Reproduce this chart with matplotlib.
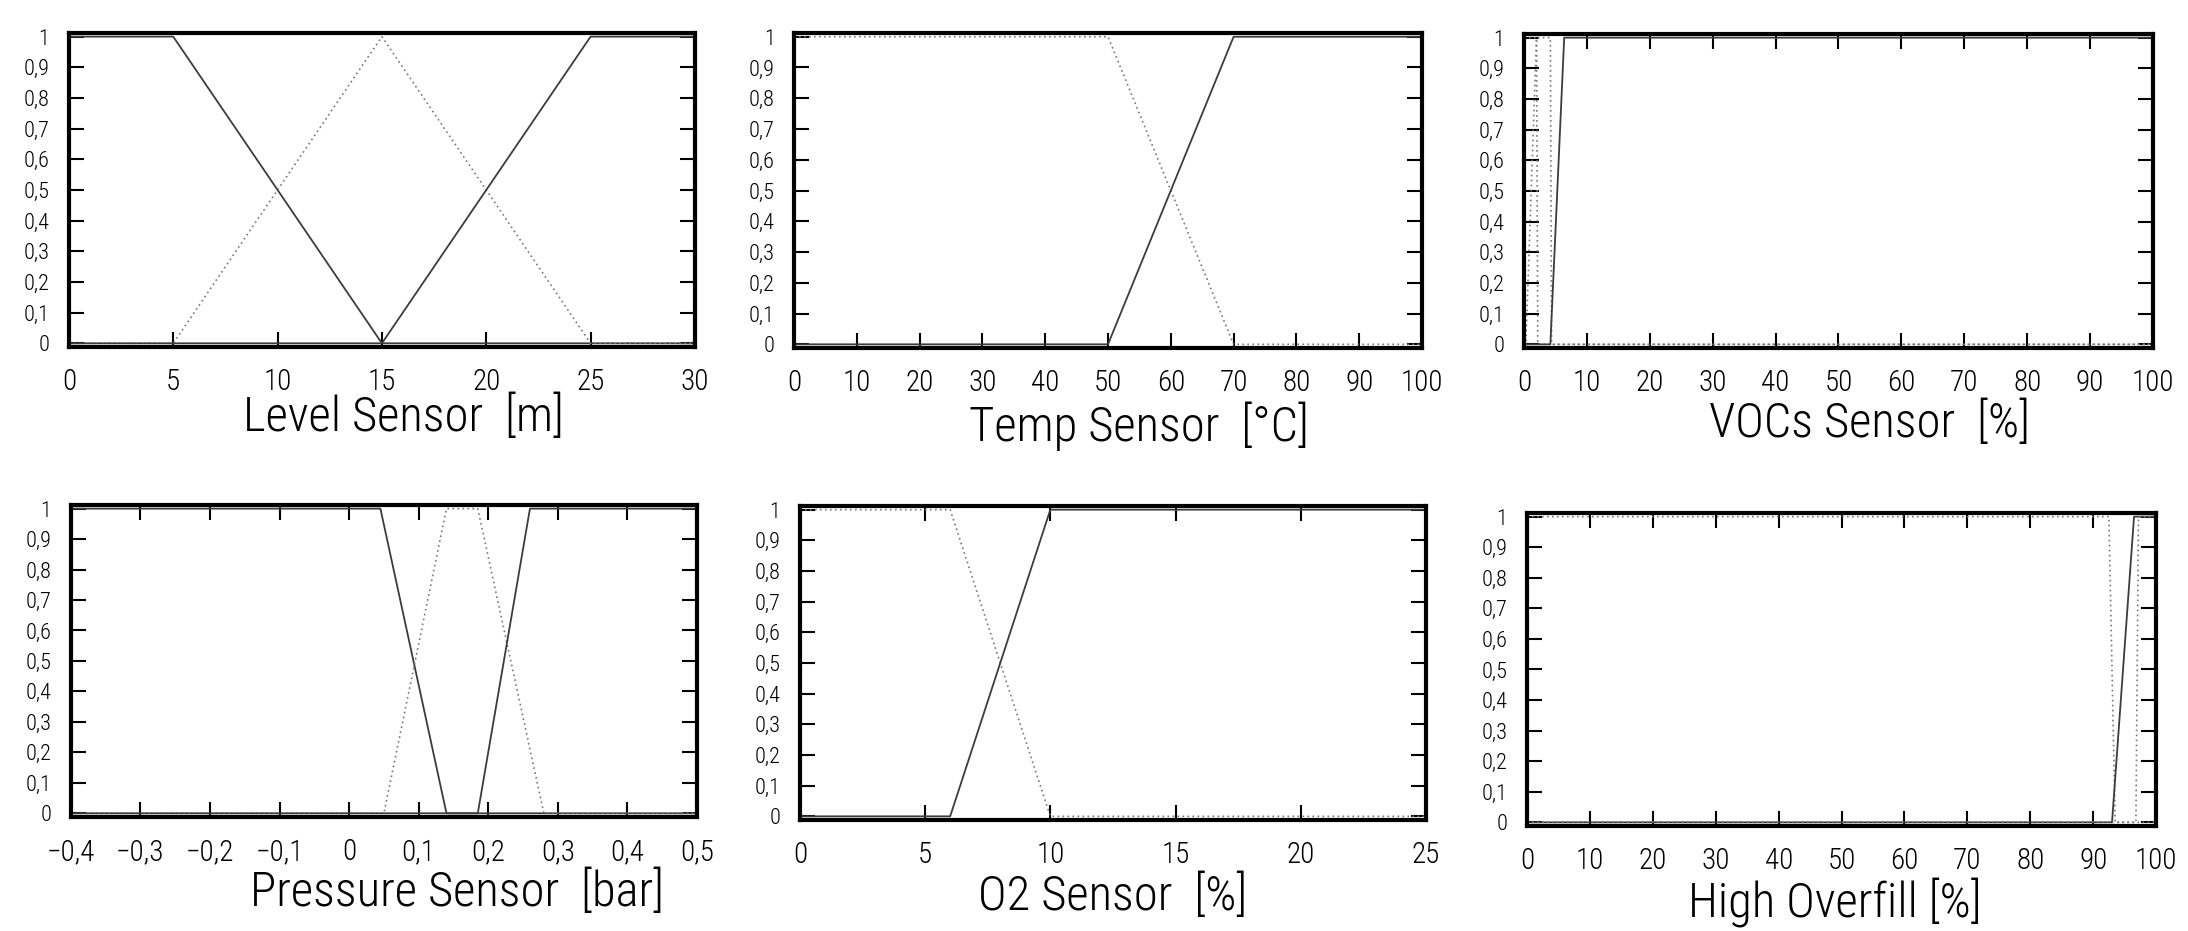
# Six fuzzy membership panels (sensor inputs), redrawn from the scanned figure
import matplotlib.pyplot as plt
from matplotlib.transforms import ScaledTranslation

# the scan uses a thin narrow grotesque; fall back to DejaVu for any missing glyph
plt.rcParams['font.family'] = ['Roboto Condensed', 'Archivo Narrow', 'DejaVu Sans']
plt.rcParams['font.weight'] = 'light'
plt.rcParams['axes.labelweight'] = 'light'

# ---- data: break points of each membership curve ----
# Level sensor [m]
level_low_x = [0, 5, 15, 30]
level_low_y = [1, 1, 0, 0]
level_mid_x = [0, 5, 15, 25, 30]
level_mid_y = [0, 0, 1, 0, 0]
level_high_x = [0, 15, 25, 30]
level_high_y = [0, 0, 1, 1]

# Temp sensor [C]
temp_low_x = [0, 50, 70, 100]
temp_low_y = [1, 1, 0, 0]
temp_high_x = [0, 50, 70, 100]
temp_high_y = [0, 0, 1, 1]

# VOCs sensor [%]
voc_low_x = [0, 2.0, 2.2, 100]
voc_low_y = [1, 1, 0, 0]
voc_mid_x = [0, 0.3, 2.0, 4.2, 4.4, 100]
voc_mid_y = [0, 0, 1, 1, 0, 0]
voc_high_x = [0, 4.2, 6.4, 100]
voc_high_y = [0, 0, 1, 1]

# Pressure sensor [bar]
pres_low_x = [-0.4, 0.045, 0.14, 0.5]
pres_low_y = [1, 1, 0, 0]
pres_mid_x = [-0.4, 0.05, 0.14, 0.185, 0.28, 0.5]
pres_mid_y = [0, 0, 1, 1, 0, 0]
pres_high_x = [-0.4, 0.185, 0.26, 0.5]
pres_high_y = [0, 0, 1, 1]

# O2 sensor [%]
o2_low_x = [0, 6, 10, 25]
o2_low_y = [1, 1, 0, 0]
o2_high_x = [0, 6, 10, 25]
o2_high_y = [0, 0, 1, 1]

# High overfill [%]
ovf_low_x = [0, 92.5, 93.5, 100]
ovf_low_y = [1, 1, 0, 0]
ovf_high_x = [0, 93, 96.5, 100]
ovf_high_y = [0, 0, 1, 1]
ovf_top_x = [0, 96.8, 97.2, 100]
ovf_top_y = [0, 0, 1, 1]

level_ticks = [0, 5, 10, 15, 20, 25, 30]
pct_ticks = [0, 10, 20, 30, 40, 50, 60, 70, 80, 90, 100]
pres_ticks = [-0.4, -0.3, -0.2, -0.1, 0, 0.1, 0.2, 0.3, 0.4, 0.5]
o2_ticks = [0, 5, 10, 15, 20, 25]
y_ticks = [0, 0.1, 0.2, 0.3, 0.4, 0.5, 0.6, 0.7, 0.8, 0.9, 1]

labels = ['Level Sensor  [m]', 'Temp Sensor  [\u00b0C]', 'VOCs Sensor  [%]',
          'Pressure Sensor  [bar]', 'O2 Sensor  [%]', 'High Overfill [%]']


def comma(v):
    # decimal comma and a real minus sign, like the original
    return ('%g' % v).replace('.', ',').replace('-', '\u2212')


panels = [
    dict(curves=[(level_low_x, level_low_y, 'solid'), (level_mid_x, level_mid_y, 'dot'),
                 (level_high_x, level_high_y, 'solid')],
         xlim=(0, 30), xticks=level_ticks, top=False,
         rect=[0.0315, 0.6273, 0.2861, 0.3373], lab=(0.535, -0.225)),
    dict(curves=[(temp_low_x, temp_low_y, 'dot'), (temp_high_x, temp_high_y, 'solid')],
         xlim=(0, 100), xticks=pct_ticks, top=False,
         rect=[0.3629, 0.6262, 0.2870, 0.3383], lab=(0.55, -0.25)),
    dict(curves=[(voc_low_x, voc_low_y, 'dot'), (voc_mid_x, voc_mid_y, 'dot'),
                 (voc_high_x, voc_high_y, 'solid')],
         xlim=(0, 100), xticks=pct_ticks, top=True,
         rect=[0.6965, 0.6262, 0.2875, 0.3373], lab=(0.55, -0.242)),
    dict(curves=[(pres_low_x, pres_low_y, 'solid'), (pres_mid_x, pres_mid_y, 'dot'),
                 (pres_high_x, pres_high_y, 'solid')],
         xlim=(-0.4, 0.5), xticks=pres_ticks, top=True,
         rect=[0.0324, 0.1225, 0.2861, 0.3351], lab=(0.617, -0.244)),
    dict(curves=[(o2_low_x, o2_low_y, 'dot'), (o2_high_x, o2_high_y, 'solid')],
         xlim=(0, 25), xticks=o2_ticks, top=True,
         rect=[0.3656, 0.1192, 0.2861, 0.3373], lab=(0.50, -0.245)),
    dict(curves=[(ovf_low_x, ovf_low_y, 'dot'), (ovf_high_x, ovf_high_y, 'solid'),
                 (ovf_top_x, ovf_top_y, 'dot')],
         xlim=(0, 100), xticks=pct_ticks, top=True,
         rect=[0.6979, 0.1128, 0.2875, 0.3362], lab=(0.49, -0.243)),
]

fig = plt.figure(figsize=(21.88, 9.31), dpi=100)

for p, label in zip(panels, labels):
    ax = fig.add_axes(p['rect'])
    for xs, ys, style in p['curves']:
        if style == 'solid':
            ax.plot(xs, ys, color='#3c3c3c', lw=1.3)
        else:
            ax.plot(xs, ys, color='#787878', lw=1.2, ls=(0, (1, 2)))

    ax.set_xlim(*p['xlim'])
    ax.set_ylim(-0.012, 1.012)
    ax.set_xticks(p['xticks'])
    ax.set_xticklabels([comma(v) for v in p['xticks']], fontsize=21)
    ax.set_yticks(y_ticks)
    ylabs = ax.set_yticklabels([comma(v) for v in y_ticks], fontsize=16)

    # in the scan the "0" sits a little below the axis and the "1" above it
    ylabs[0].set_transform(ylabs[0].get_transform()
                           + ScaledTranslation(0, -0.08, fig.dpi_scale_trans))
    ylabs[-1].set_transform(ylabs[-1].get_transform()
                            + ScaledTranslation(0, 0.06, fig.dpi_scale_trans))

    ax.tick_params(axis='both', direction='in', length=11, width=1.5, color='black')
    ax.tick_params(axis='y', right=True, pad=14)
    ax.tick_params(axis='x', top=p['top'], pad=15)

    for sp in ax.spines.values():
        sp.set_linewidth(3)

    ax.set_xlabel(label, fontsize=35, va='center')
    ax.xaxis.set_label_coords(*p['lab'])

fig.savefig('out.png', dpi=100)
